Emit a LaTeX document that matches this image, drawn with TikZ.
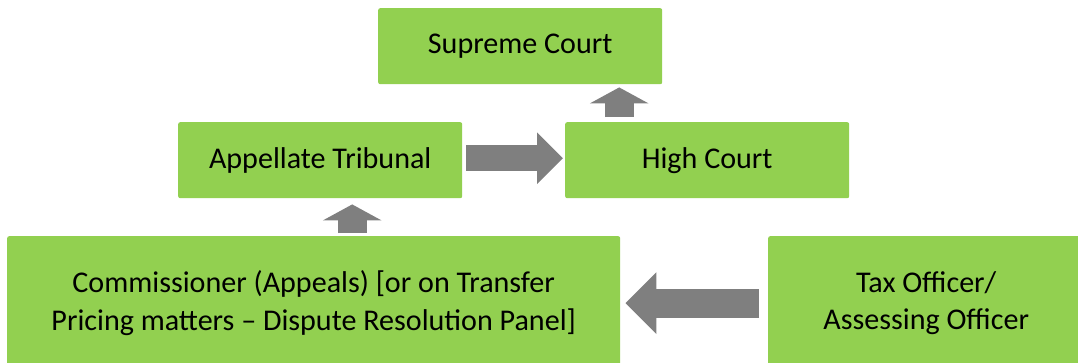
\documentclass[tikz,border=0pt]{standalone}
\usepackage{fontspec}
\setmainfont{Carlito}
\usetikzlibrary{arrows.meta,calc}
\definecolor{boxgreen}{RGB}{146,208,80}
\definecolor{arrowgray}{RGB}{127,127,127}
\tikzset{
  court/.style={fill=boxgreen, rounded corners=2bp, inner sep=0pt, anchor=north west,
    align=center, font=\fontsize{30.2}{37.5}\selectfont, text=black},
  blockarrow/.style={draw=arrowgray, line width=#1},
  smallhead/.style={-{Triangle[length=16bp,width=58bp]}},
}
\begin{document}
\begin{tikzpicture}[x=1bp,y=-1bp]
  \useasboundingbox (0,0) rectangle (1078,362);
  \clip (0,0) rectangle (1078,362);
  % courts and offices
  \node[court, minimum width=284bp, minimum height=76bp] (sc) at (378,8) {Supreme Court};
  \node[court, minimum width=284bp, minimum height=76bp] (at) at (178,122) {Appellate Tribunal};
  \node[court, minimum width=284bp, minimum height=76bp] (hc) at (565,122) {High Court};
  \node[court, minimum width=613bp, minimum height=134bp] (cm) at (7,236)
    {Commissioner (Appeals) [or on Transfer\\Pricing matters -- Dispute Resolution Panel]};
  \node[court, minimum width=316bp, minimum height=134bp] (to) at (768,236)
    {Tax Officer/\\Assessing Officer};
  % appeal route
  \draw[blockarrow=29bp, -{Triangle[length=31bp,width=60bp]}, shorten <=9bp, shorten >=5bp]
    ([yshift=0bp]to.west) -- ([yshift=0bp]cm.east);
  \draw[blockarrow=29bp, smallhead, shorten <=3bp, shorten >=6bp]
    ([xshift=32bp]at.south |- cm.north) -- ([xshift=32bp]at.south);
  \draw[blockarrow=26bp, -{Triangle[length=26bp,width=50bp]}, shorten <=4bp, shorten >=2bp]
    ([yshift=2bp]at.east) -- ([yshift=2bp]hc.west);
  \draw[blockarrow=29bp, smallhead, shorten <=5bp, shorten >=3bp]
    ([xshift=-88bp]hc.north) -- ([xshift=-88bp]hc.north |- sc.south);
\end{tikzpicture}
\end{document}
